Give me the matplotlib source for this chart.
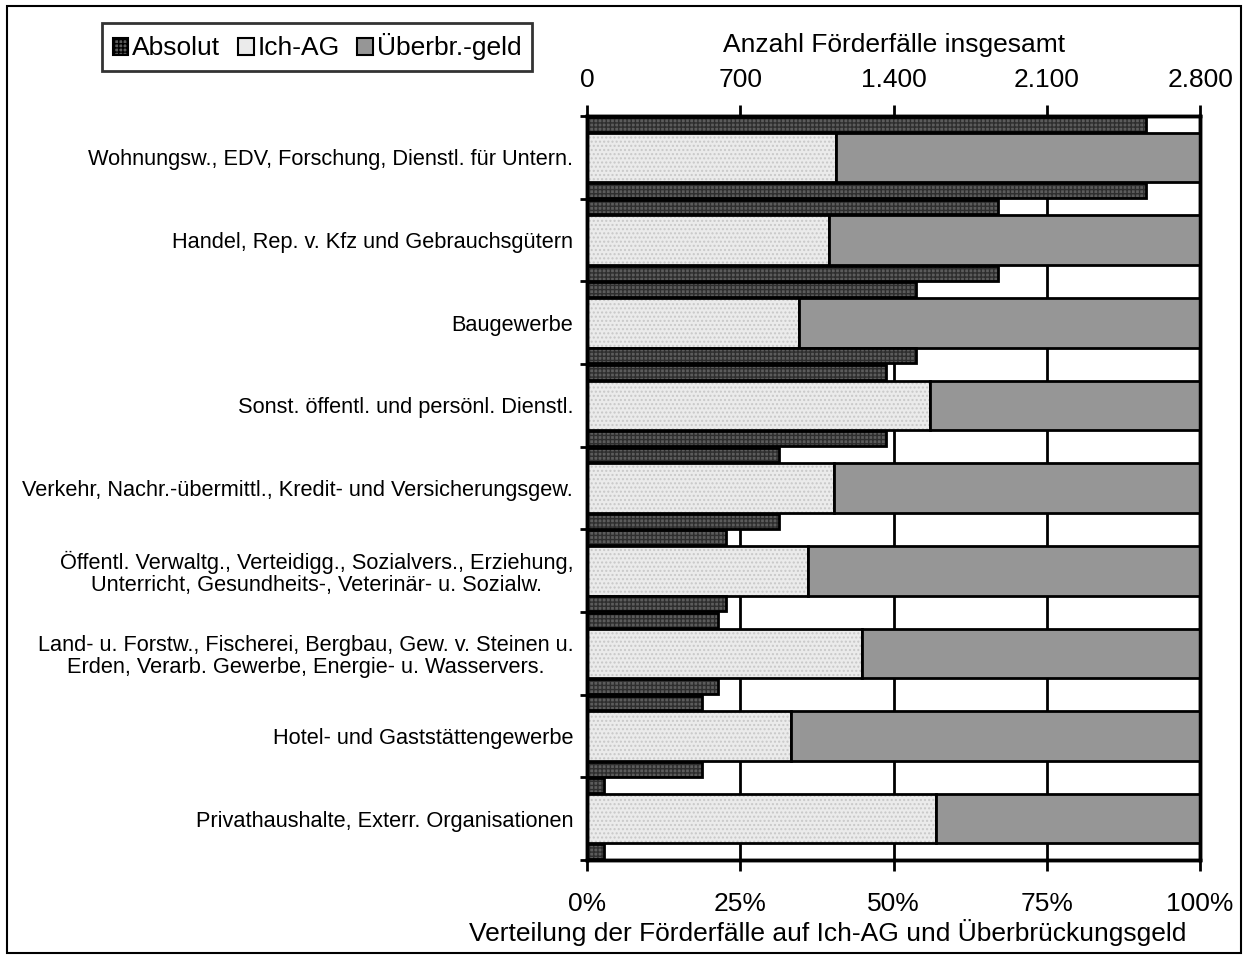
import matplotlib
matplotlib.use('Agg')
import matplotlib.pyplot as plt
from matplotlib.patches import Patch, Rectangle
from matplotlib.ticker import FixedLocator

plt.rcParams["font.family"] = ["Liberation Sans", "DejaVu Sans"]
plt.rcParams["hatch.linewidth"] = 1.0

# Branchen (von oben nach unten)
categories = [
    "Wohnungsw., EDV, Forschung, Dienstl. für Untern.",
    "Handel, Rep. v. Kfz und Gebrauchsgütern",
    "Baugewerbe",
    "Sonst. öffentl. und persönl. Dienstl.",
    "Verkehr, Nachr.-übermittl., Kredit- und Versicherungsgew.",
    "Öffentl. Verwaltg., Verteidigg., Sozialvers., Erziehung,\nUnterricht, Gesundheits-, Veterinär- u. Sozialw.",
    "Land- u. Forstw., Fischerei, Bergbau, Gew. v. Steinen u.\nErden, Verarb. Gewerbe, Energie- u. Wasservers.",
    "Hotel- und Gaststättengewerbe",
    "Privathaushalte, Exterr. Organisationen",
]
# Anzahl Förderfälle insgesamt
absolut = [2555, 1878, 1502, 1364, 875, 635, 598, 527, 78]
# Anteil Ich-AG in %
ich_ag = [40.6, 39.4, 34.5, 55.9, 40.3, 36.1, 44.8, 33.2, 57.0]
ueberbr = [100 - v for v in ich_ag]

pct_ticks = [0, 25, 50, 75, 100]
pct_labels = ["0%", "25%", "50%", "75%", "100%"]
abs_ticks = [0, 700, 1400, 2100, 2800]
abs_labels = ["0", "700", "1.400", "2.100", "2.800"]

C_ABS, C_ABS_H = "#5c5c5c", "#2e2e2e"
C_ICH, C_ICH_H = "#ebebeb", "#c8c8c8"
C_UEB = "#969696"

FS = 19

fig = plt.figure(figsize=(12.48, 9.59), dpi=100)
ax = fig.add_axes([0.4704, 0.1032, 0.4912, 0.7758])
ax2 = ax.twiny()

y = list(range(len(categories)))
h_main = 0.6
h_abs = 0.18

# Gitterlinien (hinter den Balken)
for xv in pct_ticks[1:-1]:
    ax.axvline(xv, color="black", lw=2, zorder=0)

# gestapelte Verteilung
ax.barh(y, ich_ag, height=h_main, color=C_ICH, hatch="....", edgecolor=C_ICH_H, lw=0, zorder=2)
ax.barh(y, ich_ag, height=h_main, facecolor="none", edgecolor="black", lw=2, zorder=3)
ax.barh(y, ueberbr, left=ich_ag, height=h_main, color=C_UEB, edgecolor="black", lw=2, zorder=3)

# absolute Werte oben und unten im Band
for off in (-0.4, 0.4):
    yy = [v + off for v in y]
    ax2.barh(yy, absolut, height=h_abs, color=C_ABS, hatch="++++", edgecolor=C_ABS_H, lw=0, zorder=2)
    ax2.barh(yy, absolut, height=h_abs, facecolor="none", edgecolor="black", lw=2, zorder=3)

ax.set_xlim(0, 100)
ax2.set_xlim(0, 2800)
ax.set_ylim(len(categories) - 0.5, -0.5)

ax.set_xticks(pct_ticks)
ax.set_xticklabels(pct_labels, fontsize=FS)
ax2.set_xticks(abs_ticks)
ax2.set_xticklabels(abs_labels, fontsize=FS)

bounds = [i - 0.5 for i in range(len(categories) + 1)]
ax.yaxis.set_major_locator(FixedLocator(bounds))
ax.set_yticklabels([""] * len(bounds))
ax.yaxis.set_minor_locator(FixedLocator(y))
ax.set_yticklabels(categories, minor=True, fontsize=15.7, multialignment="center", linespacing=1.05)
ax.tick_params(axis="y", which="major", length=5, width=2, direction="out")
ax.tick_params(axis="y", which="minor", length=0, pad=10)
ax.tick_params(axis="x", length=8, width=2, direction="out", pad=15)
ax2.tick_params(axis="x", length=8, width=2, direction="out", pad=9)

for a in (ax, ax2):
    for s in a.spines.values():
        s.set_linewidth(2.5)

ax.set_xlabel("Verteilung der Förderfälle auf Ich-AG und Überbrückungsgeld", fontsize=FS, labelpad=2)
ax.xaxis.label.set_x(0.393)
ax2.set_xlabel("Anzahl Förderfälle insgesamt", fontsize=FS, labelpad=12)

handles = [
    Patch(facecolor=C_ABS, edgecolor="black", hatch="++++", lw=1.5, label="Absolut"),
    Patch(facecolor=C_ICH, edgecolor="black", lw=1.5, label="Ich-AG"),
    Patch(facecolor=C_UEB, edgecolor="black", lw=1.5, label="Überbr.-geld"),
]
leg = fig.legend(handles=handles, loc="center", bbox_to_anchor=(0.254, 0.951), ncol=3,
                 fontsize=FS, frameon=True, fancybox=False, edgecolor="black",
                 handlelength=0.6, handleheight=0.6, handletextpad=0.15, columnspacing=0.65,
                 borderpad=0.4, borderaxespad=0)
leg.get_frame().set_linewidth(2)

fig.patches.append(Rectangle((0.006, 0.006), 0.988, 0.988, transform=fig.transFigure,
                             fill=False, edgecolor="black", lw=1.5))

fig.savefig("out.png", dpi=100)
